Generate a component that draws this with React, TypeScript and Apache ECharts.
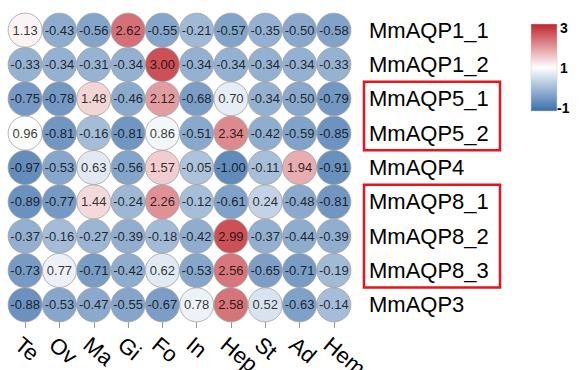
import React, { useEffect, useRef } from "react";
import * as echarts from "echarts";

const tissues = ["Te", "Ov", "Ma", "Gi", "Fo", "In", "Hep", "St", "Ad", "Hem"];
const genes = [
  "MmAQP1_1",
  "MmAQP1_2",
  "MmAQP5_1",
  "MmAQP5_2",
  "MmAQP4",
  "MmAQP8_1",
  "MmAQP8_2",
  "MmAQP8_3",
  "MmAQP3",
];
const rowMmAQP1_1 = [1.13, -0.43, -0.56, 2.62, -0.55, -0.21, -0.57, -0.35, -0.5, -0.58];
const rowMmAQP1_2 = [-0.33, -0.34, -0.31, -0.34, 3.0, -0.34, -0.34, -0.34, -0.34, -0.33];
const rowMmAQP5_1 = [-0.75, -0.78, 1.48, -0.46, 2.12, -0.68, 0.7, -0.34, -0.5, -0.79];
const rowMmAQP5_2 = [0.96, -0.81, -0.16, -0.81, 0.86, -0.51, 2.34, -0.42, -0.59, -0.85];
const rowMmAQP4 = [-0.97, -0.53, 0.63, -0.56, 1.57, -0.05, -1.0, -0.11, 1.94, -0.91];
const rowMmAQP8_1 = [-0.89, -0.77, 1.44, -0.24, 2.26, -0.12, -0.61, 0.24, -0.48, -0.81];
const rowMmAQP8_2 = [-0.37, -0.16, -0.27, -0.39, -0.18, -0.42, 2.99, -0.37, -0.44, -0.39];
const rowMmAQP8_3 = [-0.73, 0.77, -0.71, -0.42, 0.62, -0.53, 2.56, -0.65, -0.71, -0.19];
const rowMmAQP3 = [-0.88, -0.53, -0.47, -0.55, -0.67, 0.78, 2.58, 0.52, -0.63, -0.14];
const matrix = [
  rowMmAQP1_1,
  rowMmAQP1_2,
  rowMmAQP5_1,
  rowMmAQP5_2,
  rowMmAQP4,
  rowMmAQP8_1,
  rowMmAQP8_2,
  rowMmAQP8_3,
  rowMmAQP3,
];
const scaleTicks = ["3", "1", "-1"];
const scaleMin = -1;
const scaleMax = 3;
const highlightGroups = [
  ["MmAQP5_1", "MmAQP5_2"],
  ["MmAQP8_1", "MmAQP8_3"],
];

const BLUE = "#3a6eaa";
const RED = "#bf252c";
const FONT = "Liberation Sans, Arial, sans-serif";

export default function App() {
  const ref = useRef<HTMLDivElement>(null);
  useEffect(() => {
    if (!ref.current) return;
    const chart = echarts.init(ref.current, undefined, { renderer: "svg" });
    const data: any[] = [];
    matrix.forEach((row, i) =>
      row.forEach((v, j) => data.push([tissues[j], genes[i], v]))
    );
    const legendGraphics: any[] = [
      {
        id: "legendBar",
        type: "rect",
        shape: { x: 531, y: 24, width: 26, height: 87 },
        style: {
          fill: new echarts.graphic.LinearGradient(0, 0, 0, 1, [
            { offset: 0, color: RED },
            { offset: 0.5, color: "#ffffff" },
            { offset: 1, color: BLUE },
          ]),
          stroke: "#cccccc",
          lineWidth: 0.5,
        },
      },
      ...scaleTicks.map((t, k) => ({
        id: "legendText" + k,
        type: "text",
        x: t.startsWith("-") ? 557 : 560,
        y: 28 + k * 40,
        style: {
          text: t,
          fontSize: 14,
          fontWeight: "bold",
          fontFamily: FONT,
          fill: "#000",
          verticalAlign: "middle",
          textAlign: "left",
        },
      })),
    ];
    chart.setOption({
      animation: false,
      grid: {
        left: 8,
        top: 13,
        width: 343,
        height: 309,
        containLabel: false,
        outerBoundsMode: "none",
      },
      xAxis: {
        type: "category",
        data: tissues,
        boundaryGap: true,
        axisLine: { show: false },
        axisTick: { show: true, alignWithLabel: true, length: 6, lineStyle: { color: "#999" } },
        axisLabel: {
          rotate: -40,
          fontSize: 22,
          fontFamily: FONT,
          color: "#000",
          margin: 11,
          interval: 0,
          verticalAlign: "top",
          align: "left",
        },
        splitLine: { show: false },
      },
      yAxis: {
        type: "category",
        data: genes,
        inverse: true,
        position: "right",
        boundaryGap: true,
        axisLine: { show: false },
        axisTick: { show: false },
        axisLabel: { fontSize: 22, fontFamily: FONT, color: "#000", margin: 18 },
        splitLine: { show: false },
      },
      visualMap: {
        show: false,
        min: scaleMin,
        max: scaleMax,
        dimension: 2,
        inRange: { color: [BLUE, "#ffffff", RED] },
      },
      series: [
        {
          type: "scatter",
          data,
          symbol: "circle",
          symbolSize: 34,
          itemStyle: { borderColor: "#a0a0a0", borderWidth: 1 },
          label: {
            show: true,
            formatter: (p: any) => p.value[2].toFixed(2),
            fontSize: 13,
            fontFamily: FONT,
            color: "#000",
          },
        },
      ],
      graphic: legendGraphics,
    });
    const boxes = highlightGroups.map((g, k) => {
      const a = chart.convertToPixel({ gridIndex: 0 }, [tissues[0], g[0]]) as number[];
      const b = chart.convertToPixel({ gridIndex: 0 }, [tissues[0], g[1]]) as number[];
      const half = 17;
      return {
        id: "box" + k,
        type: "rect",
        shape: { x: 364, y: a[1] - half, width: 136, height: b[1] - a[1] + 2 * half },
        style: { fill: "none", stroke: "#e8141a", lineWidth: 2.5 },
      };
    });
    chart.setOption({ graphic: [...legendGraphics, ...boxes] });
    return () => chart.dispose();
  }, []);
  return (
    <div
      ref={ref}
      style={{ position: "absolute", left: 0, top: 0, width: 579, height: 370 }}
    />
  );
}
